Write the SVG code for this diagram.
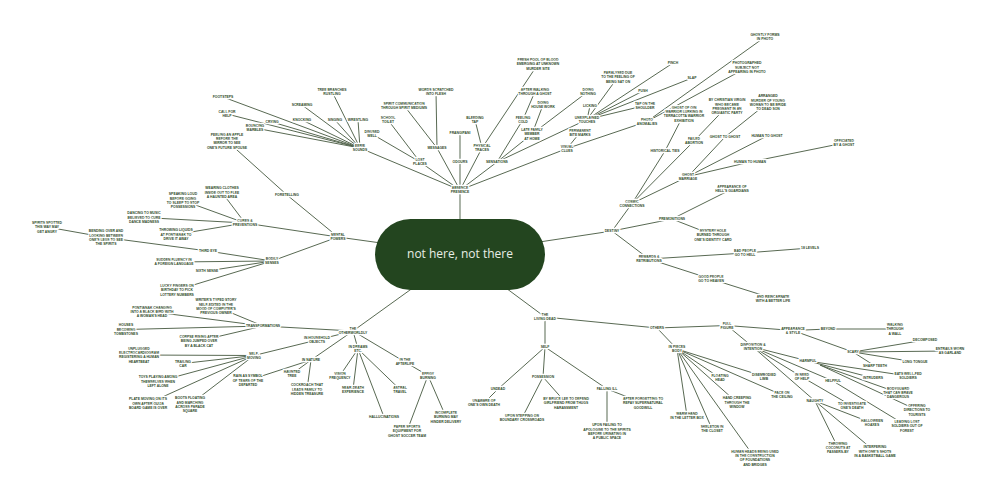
<svg xmlns="http://www.w3.org/2000/svg" width="1000" height="498" viewBox="0 0 1000 498">
<style>
.t{font-family:"Liberation Sans",Arial,sans-serif;font-size:3.4px;font-weight:700;fill:#2e4a29;text-anchor:middle;stroke:#ffffff;stroke-width:2.4px;paint-order:stroke;stroke-linejoin:round}
#connectors line{stroke:#4f6149;stroke-width:0.95;fill:none}
.root-shape{fill:#23451f}
.root-text{font-family:"Open Sans","Noto Sans",sans-serif;font-size:12px;fill:#e8eee6;text-anchor:middle}
</style>
<rect width="1000" height="498" fill="#ffffff"/>
<g id="connectors">
<line x1="460" y1="254" x2="460" y2="190"/><line x1="460" y1="254" x2="338" y2="237"/><line x1="460" y1="254" x2="612" y2="231"/><line x1="460" y1="254" x2="545" y2="317"/><line x1="460" y1="254" x2="353" y2="331"/>
<line x1="460" y1="190" x2="360" y2="148"/><line x1="460" y1="190" x2="420" y2="162"/><line x1="460" y1="190" x2="437" y2="148"/><line x1="460" y1="190" x2="460" y2="162"/><line x1="460" y1="190" x2="482" y2="148"/><line x1="460" y1="190" x2="497" y2="162"/><line x1="460" y1="190" x2="567" y2="148.5"/>
<line x1="360" y1="148" x2="223" y2="97"/><line x1="360" y1="148" x2="227" y2="114"/><line x1="360" y1="148" x2="272" y2="122"/><line x1="360" y1="148" x2="255" y2="128"/><line x1="360" y1="148" x2="302" y2="120"/><line x1="360" y1="148" x2="302" y2="105"/><line x1="360" y1="148" x2="332" y2="91.5"/><line x1="360" y1="148" x2="335" y2="120"/><line x1="360" y1="148" x2="358" y2="120"/>
<line x1="420" y1="162" x2="372" y2="134"/><line x1="420" y1="162" x2="388" y2="120"/>
<line x1="437" y1="148" x2="436" y2="92"/><line x1="437" y1="148" x2="404" y2="105.5"/>
<line x1="460" y1="162" x2="460" y2="133"/>
<line x1="482" y1="148" x2="475" y2="120"/><line x1="482" y1="148" x2="538" y2="64"/>
<line x1="497" y1="162" x2="523" y2="119.5"/><line x1="497" y1="162" x2="532" y2="134"/><line x1="497" y1="162" x2="587" y2="119.5"/>
<line x1="523" y1="119.5" x2="535" y2="91.5"/>
<line x1="532" y1="134" x2="543" y2="105"/><line x1="532" y1="134" x2="588" y2="91.5"/>
<line x1="587" y1="119.5" x2="590" y2="106"/><line x1="587" y1="119.5" x2="618" y2="77"/><line x1="587" y1="119.5" x2="673" y2="63"/><line x1="587" y1="119.5" x2="692" y2="78"/><line x1="587" y1="119.5" x2="643" y2="91"/><line x1="587" y1="119.5" x2="645" y2="105.5"/>
<line x1="567" y1="148.5" x2="580" y2="132.5"/><line x1="567" y1="148.5" x2="647" y2="121.5"/>
<line x1="647" y1="121.5" x2="765" y2="37"/><line x1="647" y1="121.5" x2="747" y2="67.5"/>
<line x1="338" y1="237" x2="287" y2="195"/><line x1="338" y1="237" x2="245" y2="223"/><line x1="338" y1="237" x2="272" y2="261"/>
<line x1="287" y1="195" x2="227" y2="141"/>
<line x1="245" y1="223" x2="222" y2="192.5"/><line x1="245" y1="223" x2="183" y2="200.5"/><line x1="245" y1="223" x2="144" y2="217.5"/><line x1="245" y1="223" x2="176" y2="234.5"/>
<line x1="272" y1="261" x2="208" y2="251"/><line x1="272" y1="261" x2="174" y2="262"/><line x1="272" y1="261" x2="207" y2="271"/><line x1="272" y1="261" x2="177" y2="290"/>
<line x1="208" y1="251" x2="106" y2="237.5"/><line x1="106" y1="237.5" x2="47" y2="227"/>
<line x1="353" y1="331" x2="263" y2="326"/><line x1="353" y1="331" x2="317" y2="340"/><line x1="353" y1="331" x2="311" y2="360"/><line x1="353" y1="331" x2="358" y2="349"/><line x1="353" y1="331" x2="405" y2="362"/>
<line x1="263" y1="326" x2="216" y2="306.5"/><line x1="263" y1="326" x2="152" y2="311.7"/><line x1="263" y1="326" x2="126" y2="329.5"/><line x1="263" y1="326" x2="199" y2="341"/>
<line x1="317" y1="340" x2="254" y2="355.5"/>
<line x1="254" y1="355.5" x2="139" y2="355"/><line x1="254" y1="355.5" x2="183" y2="363.5"/><line x1="254" y1="355.5" x2="158" y2="381.5"/><line x1="254" y1="355.5" x2="148" y2="403.5"/><line x1="254" y1="355.5" x2="190" y2="404.5"/>
<line x1="311" y1="360" x2="292" y2="374"/><line x1="311" y1="360" x2="307" y2="389.5"/><line x1="311" y1="360" x2="248" y2="380.5"/>
<line x1="358" y1="349" x2="340" y2="375.5"/><line x1="358" y1="349" x2="353" y2="389.5"/><line x1="358" y1="349" x2="400" y2="389.5"/><line x1="358" y1="349" x2="384" y2="417"/>
<line x1="405" y1="362" x2="428" y2="375.5"/>
<line x1="428" y1="375.5" x2="407" y2="431"/><line x1="428" y1="375.5" x2="446" y2="417"/>
<line x1="545" y1="317" x2="545" y2="347"/><line x1="545" y1="317" x2="657" y2="328"/>
<line x1="545" y1="347" x2="498" y2="389"/><line x1="545" y1="347" x2="543" y2="377"/><line x1="545" y1="347" x2="607" y2="389"/>
<line x1="498" y1="389" x2="484" y2="403"/>
<line x1="543" y1="377" x2="522" y2="418"/><line x1="543" y1="377" x2="566" y2="403"/>
<line x1="607" y1="389" x2="607" y2="431.5"/><line x1="607" y1="389" x2="643" y2="403"/>
<line x1="657" y1="328" x2="677" y2="349"/><line x1="657" y1="328" x2="727" y2="325.5"/>
<line x1="677" y1="349" x2="687" y2="416"/><line x1="677" y1="349" x2="712" y2="429"/><line x1="677" y1="349" x2="720" y2="378"/><line x1="677" y1="349" x2="737" y2="402.5"/><line x1="677" y1="349" x2="764" y2="376.5"/><line x1="677" y1="349" x2="782" y2="395"/><line x1="677" y1="349" x2="755" y2="458"/>
<line x1="727" y1="325.5" x2="793" y2="330.5"/><line x1="727" y1="325.5" x2="753" y2="347"/>
<line x1="793" y1="330.5" x2="828" y2="329"/><line x1="793" y1="330.5" x2="853" y2="352"/>
<line x1="828" y1="329" x2="895" y2="329"/>
<line x1="853" y1="352" x2="925" y2="340"/><line x1="853" y1="352" x2="950" y2="351"/><line x1="853" y1="352" x2="915" y2="362"/><line x1="853" y1="352" x2="875" y2="366"/>
<line x1="753" y1="347" x2="808" y2="361"/><line x1="753" y1="347" x2="802" y2="377"/><line x1="753" y1="347" x2="833" y2="381"/><line x1="753" y1="347" x2="815" y2="401"/>
<line x1="808" y1="361" x2="908" y2="376"/><line x1="808" y1="361" x2="873" y2="378"/>
<line x1="802" y1="377" x2="852" y2="406"/>
<line x1="820" y1="365" x2="898" y2="392.7"/><line x1="820" y1="365" x2="917" y2="410"/><line x1="833" y1="381" x2="907" y2="426"/>
<line x1="815" y1="401" x2="872" y2="423"/><line x1="815" y1="401" x2="838" y2="447.7"/><line x1="815" y1="401" x2="875" y2="451.5"/>
<line x1="612" y1="231" x2="632" y2="203.5"/><line x1="612" y1="231" x2="672" y2="219"/><line x1="612" y1="231" x2="649" y2="259"/>
<line x1="632" y1="203.5" x2="665" y2="151"/><line x1="632" y1="203.5" x2="694" y2="141"/><line x1="632" y1="203.5" x2="688" y2="176.5"/>
<line x1="665" y1="151" x2="684" y2="114"/>
<line x1="694" y1="141" x2="727" y2="106.5"/>
<line x1="688" y1="176.5" x2="725" y2="137"/><line x1="688" y1="176.5" x2="767" y2="136"/><line x1="688" y1="176.5" x2="750" y2="162"/>
<line x1="725" y1="137" x2="768" y2="102.5"/>
<line x1="750" y1="162" x2="844" y2="143"/>
<line x1="672" y1="219" x2="732" y2="189"/><line x1="672" y1="219" x2="713" y2="235"/>
<line x1="649" y1="259" x2="745" y2="253"/><line x1="649" y1="259" x2="711" y2="279"/>
<line x1="745" y1="253" x2="810" y2="248"/>
<line x1="711" y1="279" x2="773" y2="298.5"/>
</g>
<g id="root"><rect class="root-shape" x="375" y="219" width="170" height="71" rx="35.5"/><text class="root-text" x="460" y="258">not here, not there</text></g>
<g id="n-ap"><text class="t"><tspan x="460" y="189">ABSENCE</tspan><tspan x="460" y="193.4">PRESENCE</tspan></text></g>
<g id="n-eerie"><text class="t"><tspan x="360" y="147">EERIE</tspan><tspan x="360" y="151.4">SOUNDS</tspan></text></g>
<g id="n-footsteps"><text class="t" x="223" y="98.2">FOOTSTEPS</text></g>
<g id="n-callhelp"><text class="t"><tspan x="227" y="113">CALL FOR</tspan><tspan x="227" y="117.4">HELP</tspan></text></g>
<g id="n-crying"><text class="t" x="272" y="123.2">CRYING</text></g>
<g id="n-marbles"><text class="t"><tspan x="255" y="127">BOUNCING</tspan><tspan x="255" y="131.4">MARBLES</tspan></text></g>
<g id="n-knocking"><text class="t" x="302" y="121.2">KNOCKING</text></g>
<g id="n-screaming"><text class="t" x="302" y="106.2">SCREAMING</text></g>
<g id="n-branches"><text class="t"><tspan x="332" y="90.5">TREE BRANCHES</tspan><tspan x="332" y="94.9">RUSTLING</tspan></text></g>
<g id="n-singing"><text class="t" x="335" y="121.2">SINGING</text></g>
<g id="n-wrestling"><text class="t" x="358" y="121.2">WRESTLING</text></g>
<g id="n-lost"><text class="t"><tspan x="420" y="161">LOST</tspan><tspan x="420" y="165.4">PLACES</tspan></text></g>
<g id="n-well"><text class="t"><tspan x="372" y="133">DISUSED</tspan><tspan x="372" y="137.4">WELL</tspan></text></g>
<g id="n-toilet"><text class="t"><tspan x="388" y="119">SCHOOL</tspan><tspan x="388" y="123.4">TOILET</tspan></text></g>
<g id="n-messages"><text class="t" x="437" y="149.2">MESSAGES</text></g>
<g id="n-words"><text class="t"><tspan x="436" y="91">WORDS SCRATCHED</tspan><tspan x="436" y="95.4">INTO FLESH</tspan></text></g>
<g id="n-spiritcomm"><text class="t"><tspan x="404" y="104.5">SPIRIT COMMUNICATION</tspan><tspan x="404" y="108.9">THROUGH SPIRIT MEDIUMS</tspan></text></g>
<g id="n-odours"><text class="t" x="460" y="163.2">ODOURS</text></g>
<g id="n-frangipani"><text class="t" x="460" y="134.2">FRANGIPANI</text></g>
<g id="n-physical"><text class="t"><tspan x="482" y="147">PHYSICAL</tspan><tspan x="482" y="151.4">TRACES</tspan></text></g>
<g id="n-tap"><text class="t"><tspan x="475" y="119">BLEEDING</tspan><tspan x="475" y="123.4">TAP</tspan></text></g>
<g id="n-blood"><text class="t"><tspan x="538" y="60.8">FRESH POOL OF BLOOD</tspan><tspan x="538" y="65.2">EMERGING AT UNKNOWN</tspan><tspan x="538" y="69.6">MURDER SITE</tspan></text></g>
<g id="n-sensations"><text class="t" x="497" y="163.2">SENSATIONS</text></g>
<g id="n-cold"><text class="t"><tspan x="523" y="118.5">FEELING</tspan><tspan x="523" y="122.9">COLD</tspan></text></g>
<g id="n-afterwalk"><text class="t"><tspan x="535" y="90.5">AFTER WALKING</tspan><tspan x="535" y="94.9">THROUGH A GHOST</tspan></text></g>
<g id="n-latefam"><text class="t"><tspan x="532" y="130.8">LATE FAMILY</tspan><tspan x="532" y="135.2">MEMBER</tspan><tspan x="532" y="139.6">AT HOME</tspan></text></g>
<g id="n-housework"><text class="t"><tspan x="543" y="104">DOING</tspan><tspan x="543" y="108.4">HOUSE WORK</tspan></text></g>
<g id="n-nothing"><text class="t"><tspan x="588" y="90.5">DOING</tspan><tspan x="588" y="94.9">NOTHING</tspan></text></g>
<g id="n-touches"><text class="t"><tspan x="587" y="118.5">UNEXPLAINED</tspan><tspan x="587" y="122.9">TOUCHES</tspan></text></g>
<g id="n-licking"><text class="t" x="590" y="107.2">LICKING</text></g>
<g id="n-paralysed"><text class="t"><tspan x="618" y="73.8">PARALYSED DUE</tspan><tspan x="618" y="78.2">TO THE FEELING OF</tspan><tspan x="618" y="82.6">BEING SAT ON</tspan></text></g>
<g id="n-pinch"><text class="t" x="673" y="64.2">PINCH</text></g>
<g id="n-slap"><text class="t" x="692" y="79.2">SLAP</text></g>
<g id="n-push"><text class="t" x="643" y="92.2">PUSH</text></g>
<g id="n-tapshoulder"><text class="t"><tspan x="645" y="104.5">TAP ON THE</tspan><tspan x="645" y="108.9">SHOULDER</tspan></text></g>
<g id="n-visual"><text class="t"><tspan x="567" y="147.5">VISUAL</tspan><tspan x="567" y="151.9">CLUES</tspan></text></g>
<g id="n-bite"><text class="t"><tspan x="580" y="131.5">PERMANENT</tspan><tspan x="580" y="135.9">BITE MARKS</tspan></text></g>
<g id="n-photo"><text class="t"><tspan x="647" y="120.5">PHOTO</tspan><tspan x="647" y="124.9">ANOMALIES</tspan></text></g>
<g id="n-ghostly"><text class="t"><tspan x="765" y="36">GHOSTLY FORMS</tspan><tspan x="765" y="40.4">IN PHOTO</tspan></text></g>
<g id="n-photographed"><text class="t"><tspan x="747" y="64.3">PHOTOGRAPHED</tspan><tspan x="747" y="68.7">SUBJECT NOT</tspan><tspan x="747" y="73.1">APPEARING IN PHOTO</tspan></text></g>
<g id="n-mental"><text class="t"><tspan x="338" y="236">MENTAL</tspan><tspan x="338" y="240.4">POWERS</tspan></text></g>
<g id="n-foretelling"><text class="t" x="287" y="196.2">FORETELLING</text></g>
<g id="n-peeling"><text class="t"><tspan x="227" y="135.6">PEELING AN APPLE</tspan><tspan x="227" y="140">BEFORE THE</tspan><tspan x="227" y="144.4">MIRROR TO SEE</tspan><tspan x="227" y="148.8">ONE'S FUTURE SPOUSE</tspan></text></g>
<g id="n-cures"><text class="t"><tspan x="245" y="222">CURES &amp;</tspan><tspan x="245" y="226.4">PREVENTIONS</tspan></text></g>
<g id="n-wearing"><text class="t"><tspan x="222" y="189.3">WEARING CLOTHES</tspan><tspan x="222" y="193.7">INSIDE OUT TO FLEE</tspan><tspan x="222" y="198.1">A HAUNTED AREA</tspan></text></g>
<g id="n-speaking"><text class="t"><tspan x="183" y="195.1">SPEAKING LOUD</tspan><tspan x="183" y="199.5">BEFORE GOING</tspan><tspan x="183" y="203.9">TO SLEEP TO STOP</tspan><tspan x="183" y="208.3">POSSESSIONS</tspan></text></g>
<g id="n-dancing"><text class="t"><tspan x="144" y="214.3">DANCING TO MUSIC</tspan><tspan x="144" y="218.7">BELIEVED TO CURE</tspan><tspan x="144" y="223.1">DANCE MADNESS</tspan></text></g>
<g id="n-throwing"><text class="t"><tspan x="176" y="231.3">THROWING LIQUIDS</tspan><tspan x="176" y="235.7">AT PONTIANAK TO</tspan><tspan x="176" y="240.1">DRIVE IT AWAY</tspan></text></g>
<g id="n-bodily"><text class="t"><tspan x="272" y="260">BODILY</tspan><tspan x="272" y="264.4">SENSES</tspan></text></g>
<g id="n-thirdeye"><text class="t" x="208" y="252.2">THIRD EYE</text></g>
<g id="n-bending"><text class="t"><tspan x="106" y="232.1">BENDING OVER AND</tspan><tspan x="106" y="236.5">LOOKING BETWEEN</tspan><tspan x="106" y="240.9">ONE'S LEGS TO SEE</tspan><tspan x="106" y="245.3">THE SPIRITS</tspan></text></g>
<g id="n-spotted"><text class="t"><tspan x="47" y="223.8">SPIRITS SPOTTED</tspan><tspan x="47" y="228.2">THIS WAY MAY</tspan><tspan x="47" y="232.6">GET ANGRY</tspan></text></g>
<g id="n-fluency"><text class="t"><tspan x="174" y="261">SUDDEN FLUENCY IN</tspan><tspan x="174" y="265.4">A FOREIGN LANGUAGE</tspan></text></g>
<g id="n-sixth"><text class="t" x="207" y="272.2">SIXTH SENSE</text></g>
<g id="n-lucky"><text class="t"><tspan x="177" y="286.8">LUCKY FINGERS ON</tspan><tspan x="177" y="291.2">BIRTHDAY TO PICK</tspan><tspan x="177" y="295.6">LOTTERY NUMBERS</tspan></text></g>
<g id="n-other"><text class="t"><tspan x="353" y="330">THE</tspan><tspan x="353" y="334.4">OTHERWORLDLY</tspan></text></g>
<g id="n-transf"><text class="t" x="263" y="327.2">TRANSFORMATIONS</text></g>
<g id="n-writer"><text class="t"><tspan x="216" y="301.1">WRITER'S TYPED STORY</tspan><tspan x="216" y="305.5">SELF-EDITED IN THE</tspan><tspan x="216" y="309.9">MOOD OF COMPUTER'S</tspan><tspan x="216" y="314.3">PREVIOUS OWNER</tspan></text></g>
<g id="n-pontianak"><text class="t"><tspan x="152" y="308.5">PONTIANAK CHANGING</tspan><tspan x="152" y="312.9">INTO A BLACK BIRD WITH</tspan><tspan x="152" y="317.3">A WOMAN'S HEAD</tspan></text></g>
<g id="n-houses"><text class="t"><tspan x="126" y="326.3">HOUSES</tspan><tspan x="126" y="330.7">BECOMING</tspan><tspan x="126" y="335.1">TOMBSTONES</tspan></text></g>
<g id="n-corpse"><text class="t"><tspan x="199" y="337.8">CORPSE RISING AFTER</tspan><tspan x="199" y="342.2">BEING JUMPED OVER</tspan><tspan x="199" y="346.6">BY A BLACK CAT</tspan></text></g>
<g id="n-household"><text class="t"><tspan x="317" y="339">IN HOUSEHOLD</tspan><tspan x="317" y="343.4">OBJECTS</tspan></text></g>
<g id="n-selfmoving"><text class="t"><tspan x="254" y="354.5">SELF-</tspan><tspan x="254" y="358.9">MOVING</tspan></text></g>
<g id="n-ecg"><text class="t"><tspan x="139" y="349.6">UNPLUGGED</tspan><tspan x="139" y="354">ELECTROCARDIOGRAM</tspan><tspan x="139" y="358.4">REGISTERING A HUMAN</tspan><tspan x="139" y="362.8">HEARTBEAT</tspan></text></g>
<g id="n-trailing"><text class="t"><tspan x="183" y="362.5">TRAILING</tspan><tspan x="183" y="366.9">CAR</tspan></text></g>
<g id="n-toys"><text class="t"><tspan x="158" y="378.3">TOYS PLAYING AMONG</tspan><tspan x="158" y="382.7">THEMSELVES WHEN</tspan><tspan x="158" y="387.1">LEFT ALONE</tspan></text></g>
<g id="n-plate"><text class="t"><tspan x="148" y="400.3">PLATE MOVING ON ITS</tspan><tspan x="148" y="404.7">OWN AFTER OUIJA</tspan><tspan x="148" y="409.1">BOARD GAME IS OVER</tspan></text></g>
<g id="n-boots"><text class="t"><tspan x="190" y="399.1">BOOTS FLOATING</tspan><tspan x="190" y="403.5">AND MARCHING</tspan><tspan x="190" y="407.9">ACROSS PARADE</tspan><tspan x="190" y="412.3">SQUARE</tspan></text></g>
<g id="n-nature"><text class="t" x="311" y="361.2">IN NATURE</text></g>
<g id="n-tree"><text class="t"><tspan x="292" y="373">HAUNTED</tspan><tspan x="292" y="377.4">TREE</tspan></text></g>
<g id="n-cockroach"><text class="t"><tspan x="307" y="386.3">COCKROACH THAT</tspan><tspan x="307" y="390.7">LEADS FAMILY TO</tspan><tspan x="307" y="395.1">HIDDEN TREASURE</tspan></text></g>
<g id="n-rain"><text class="t"><tspan x="248" y="377.3">RAIN AS SYMBOL</tspan><tspan x="248" y="381.7">OF TEARS OF THE</tspan><tspan x="248" y="386.1">DEPARTED</tspan></text></g>
<g id="n-dreams"><text class="t"><tspan x="358" y="348">IN DREAMS</tspan><tspan x="358" y="352.4">ETC.</tspan></text></g>
<g id="n-vision"><text class="t"><tspan x="340" y="374.5">VISION</tspan><tspan x="340" y="378.9">FREQUENCY</tspan></text></g>
<g id="n-neardeath"><text class="t"><tspan x="353" y="388.5">NEAR-DEATH</tspan><tspan x="353" y="392.9">EXPERIENCE</tspan></text></g>
<g id="n-astral"><text class="t"><tspan x="400" y="388.5">ASTRAL</tspan><tspan x="400" y="392.9">TRAVEL</tspan></text></g>
<g id="n-halluc"><text class="t" x="384" y="418.2">HALLUCINATIONS</text></g>
<g id="n-afterlife"><text class="t"><tspan x="405" y="361">IN THE</tspan><tspan x="405" y="365.4">AFTERLIFE</tspan></text></g>
<g id="n-effigy"><text class="t"><tspan x="428" y="374.5">EFFIGY</tspan><tspan x="428" y="378.9">BURNING</tspan></text></g>
<g id="n-paper"><text class="t"><tspan x="407" y="427.8">PAPER SPORTS</tspan><tspan x="407" y="432.2">EQUIPMENT FOR</tspan><tspan x="407" y="436.6">GHOST SOCCER TEAM</tspan></text></g>
<g id="n-incomplete"><text class="t"><tspan x="446" y="413.8">INCOMPLETE</tspan><tspan x="446" y="418.2">BURNING MAY</tspan><tspan x="446" y="422.6">HINDER DELIVERY</tspan></text></g>
<g id="n-living"><text class="t"><tspan x="545" y="316">THE</tspan><tspan x="545" y="320.4">LIVING DEAD</tspan></text></g>
<g id="n-self"><text class="t" x="545" y="348.2">SELF</text></g>
<g id="n-undead"><text class="t" x="498" y="390.2">UNDEAD</text></g>
<g id="n-unaware"><text class="t"><tspan x="484" y="402">UNAWARE OF</tspan><tspan x="484" y="406.4">ONE'S OWN DEATH</tspan></text></g>
<g id="n-possession"><text class="t" x="543" y="378.2">POSSESSION</text></g>
<g id="n-crossroads"><text class="t"><tspan x="522" y="417">UPON STEPPING ON</tspan><tspan x="522" y="421.4">BOUNDARY CROSSROADS</tspan></text></g>
<g id="n-bruce"><text class="t"><tspan x="566" y="399.8">BY BRUCE LEE TO DEFEND</tspan><tspan x="566" y="404.2">GIRLFRIEND FROM THUGS</tspan><tspan x="566" y="408.6">HARASSMENT</tspan></text></g>
<g id="n-ill"><text class="t" x="607" y="390.2">FALLING ILL</text></g>
<g id="n-apologise"><text class="t"><tspan x="607" y="426.1">UPON FAILING TO</tspan><tspan x="607" y="430.5">APOLOGISE TO THE SPIRITS</tspan><tspan x="607" y="434.9">BEFORE URINATING IN</tspan><tspan x="607" y="439.3">A PUBLIC SPACE</tspan></text></g>
<g id="n-repay"><text class="t"><tspan x="643" y="399.8">AFTER FORGETTING TO</tspan><tspan x="643" y="404.2">REPAY SUPERNATURAL</tspan><tspan x="643" y="408.6">GOODWILL</tspan></text></g>
<g id="n-others"><text class="t" x="657" y="329.2">OTHERS</text></g>
<g id="n-pieces"><text class="t"><tspan x="677" y="348">IN PIECES</tspan><tspan x="677" y="352.4">BODY</tspan></text></g>
<g id="n-warmhand"><text class="t"><tspan x="687" y="415">WARM HAND</tspan><tspan x="687" y="419.4">IN THE LETTER BOX</tspan></text></g>
<g id="n-skeleton"><text class="t"><tspan x="712" y="428">SKELETON IN</tspan><tspan x="712" y="432.4">THE CLOSET</tspan></text></g>
<g id="n-floating"><text class="t"><tspan x="720" y="377">FLOATING</tspan><tspan x="720" y="381.4">HEAD</tspan></text></g>
<g id="n-crawling"><text class="t"><tspan x="737" y="399.3">HAND CREEPING</tspan><tspan x="737" y="403.7">THROUGH THE</tspan><tspan x="737" y="408.1">WINDOW</tspan></text></g>
<g id="n-limb"><text class="t"><tspan x="764" y="375.5">DISEMBODIED</tspan><tspan x="764" y="379.9">LIMB</tspan></text></g>
<g id="n-face"><text class="t"><tspan x="782" y="394">FACE ON</tspan><tspan x="782" y="398.4">THE CEILING</tspan></text></g>
<g id="n-heads"><text class="t"><tspan x="755" y="452.6">HUMAN HEADS BEING USED</tspan><tspan x="755" y="457">IN THE CONSTRUCTION</tspan><tspan x="755" y="461.4">OF FOUNDATIONS</tspan><tspan x="755" y="465.8">AND BRIDGES</tspan></text></g>
<g id="n-full"><text class="t"><tspan x="727" y="324.5">FULL</tspan><tspan x="727" y="328.9">FIGURE</tspan></text></g>
<g id="n-appearance"><text class="t"><tspan x="793" y="329.5">APPEARANCE</tspan><tspan x="793" y="333.9">&amp; STYLE</tspan></text></g>
<g id="n-beyond"><text class="t" x="828" y="330.2">BEYOND</text></g>
<g id="n-wall"><text class="t"><tspan x="895" y="325.8">WALKING</tspan><tspan x="895" y="330.2">THROUGH</tspan><tspan x="895" y="334.6">A WALL</tspan></text></g>
<g id="n-scary"><text class="t" x="853" y="353.2">SCARY</text></g>
<g id="n-decomposed"><text class="t" x="925" y="341.2">DECOMPOSED</text></g>
<g id="n-entrails"><text class="t"><tspan x="950" y="350">ENTRAILS WORN</tspan><tspan x="950" y="354.4">AS GARLAND</tspan></text></g>
<g id="n-tongue"><text class="t" x="915" y="363.2">LONG TONGUE</text></g>
<g id="n-teeth"><text class="t" x="875" y="367.2">SHARP TEETH</text></g>
<g id="n-disposition"><text class="t"><tspan x="753" y="346">DISPOSITION &amp;</tspan><tspan x="753" y="350.4">INTENTION</tspan></text></g>
<g id="n-harmful"><text class="t" x="808" y="362.2">HARMFUL</text></g>
<g id="n-eats"><text class="t"><tspan x="908" y="375">EATS WELL-FED</tspan><tspan x="908" y="379.4">SOLDIERS</tspan></text></g>
<g id="n-intruders"><text class="t" x="873" y="379.2">INTRUDERS</text></g>
<g id="n-needhelp"><text class="t"><tspan x="802" y="376">IN NEED</tspan><tspan x="802" y="380.4">OF HELP</tspan></text></g>
<g id="n-investigate"><text class="t"><tspan x="852" y="405">TO INVESTIGATE</tspan><tspan x="852" y="409.4">ONE'S DEATH</tspan></text></g>
<g id="n-helpful"><text class="t" x="833" y="382.2">HELPFUL</text></g>
<g id="n-bodyguard"><text class="t"><tspan x="898" y="389.5">BODYGUARD</tspan><tspan x="898" y="393.9">THAT CAN BRAVE</tspan><tspan x="898" y="398.3">DANGEROUS</tspan></text></g>
<g id="n-directions"><text class="t"><tspan x="917" y="406.8">OFFERING</tspan><tspan x="917" y="411.2">DIRECTIONS TO</tspan><tspan x="917" y="415.6">TOURISTS</tspan></text></g>
<g id="n-leading"><text class="t"><tspan x="907" y="422.8">LEADING LOST</tspan><tspan x="907" y="427.2">SOLDIERS OUT OF</tspan><tspan x="907" y="431.6">FOREST</tspan></text></g>
<g id="n-naughty"><text class="t" x="815" y="402.2">NAUGHTY</text></g>
<g id="n-hoax"><text class="t"><tspan x="872" y="422">HALLOWEEN</tspan><tspan x="872" y="426.4">HOAXES</tspan></text></g>
<g id="n-coconuts"><text class="t"><tspan x="838" y="444.5">THROWING</tspan><tspan x="838" y="448.9">COCONUTS AT</tspan><tspan x="838" y="453.3">PASSERS-BY</tspan></text></g>
<g id="n-shots"><text class="t"><tspan x="875" y="448.3">INTERFERING</tspan><tspan x="875" y="452.7">WITH ONE'S SHOTS</tspan><tspan x="875" y="457.1">IN A BASKETBALL GAME</tspan></text></g>
<g id="n-destiny"><text class="t" x="612" y="232.2">DESTINY</text></g>
<g id="n-cosmic"><text class="t"><tspan x="632" y="202.5">COSMIC</tspan><tspan x="632" y="206.9">CONNECTIONS</tspan></text></g>
<g id="n-historic"><text class="t" x="665" y="152.2">HISTORICAL TIES</text></g>
<g id="n-qin"><text class="t"><tspan x="684" y="108.6">GHOST OF QIN</tspan><tspan x="684" y="113">WARRIOR LURKING IN</tspan><tspan x="684" y="117.4">TERRACOTTA WARRIOR</tspan><tspan x="684" y="121.8">EXHIBITION</tspan></text></g>
<g id="n-failed"><text class="t"><tspan x="694" y="140">FAILED</tspan><tspan x="694" y="144.4">ABORTION</tspan></text></g>
<g id="n-virgin"><text class="t"><tspan x="727" y="101.1">BY CHRISTIAN VIRGIN</tspan><tspan x="727" y="105.5">WHO BECAME</tspan><tspan x="727" y="109.9">PREGNANT IN AN</tspan><tspan x="727" y="114.3">ORGIASTIC PARTY</tspan></text></g>
<g id="n-marriage"><text class="t"><tspan x="688" y="175.5">GHOST</tspan><tspan x="688" y="179.9">MARRIAGE</tspan></text></g>
<g id="n-g2g"><text class="t" x="725" y="138.2">GHOST TO GHOST</text></g>
<g id="n-arranged"><text class="t"><tspan x="768" y="97.1">ARRANGED</tspan><tspan x="768" y="101.5">MURDER OF YOUNG</tspan><tspan x="768" y="105.9">WOMAN TO BE BRIDE</tspan><tspan x="768" y="110.3">TO DEAD SON</tspan></text></g>
<g id="n-h2g"><text class="t" x="767" y="137.2">HUMAN TO GHOST</text></g>
<g id="n-h2h"><text class="t" x="750" y="163.2">HUMAN TO HUMAN</text></g>
<g id="n-officiated"><text class="t"><tspan x="844" y="142">OFFICIATED</tspan><tspan x="844" y="146.4">BY A GHOST</tspan></text></g>
<g id="n-premonitions"><text class="t" x="672" y="220.2">PREMONITIONS</text></g>
<g id="n-hellguard"><text class="t"><tspan x="732" y="188">APPEARANCE OF</tspan><tspan x="732" y="192.4">HELL'S GUARDIANS</tspan></text></g>
<g id="n-hole"><text class="t"><tspan x="713" y="231.8">MYSTERY HOLE</tspan><tspan x="713" y="236.2">BURNED THROUGH</tspan><tspan x="713" y="240.6">ONE'S IDENTITY CARD</tspan></text></g>
<g id="n-rewards"><text class="t"><tspan x="649" y="258">REWARDS &amp;</tspan><tspan x="649" y="262.4">RETRIBUTIONS</tspan></text></g>
<g id="n-badpeople"><text class="t"><tspan x="745" y="252">BAD PEOPLE</tspan><tspan x="745" y="256.4">GO TO HELL</tspan></text></g>
<g id="n-levels"><text class="t" x="810" y="249.2">18 LEVELS</text></g>
<g id="n-goodpeople"><text class="t"><tspan x="711" y="278">GOOD PEOPLE</tspan><tspan x="711" y="282.4">GO TO HEAVEN</tspan></text></g>
<g id="n-reincarnate"><text class="t"><tspan x="773" y="297.5">AND REINCARNATE</tspan><tspan x="773" y="301.9">WITH A BETTER LIFE</tspan></text></g>
</svg>
